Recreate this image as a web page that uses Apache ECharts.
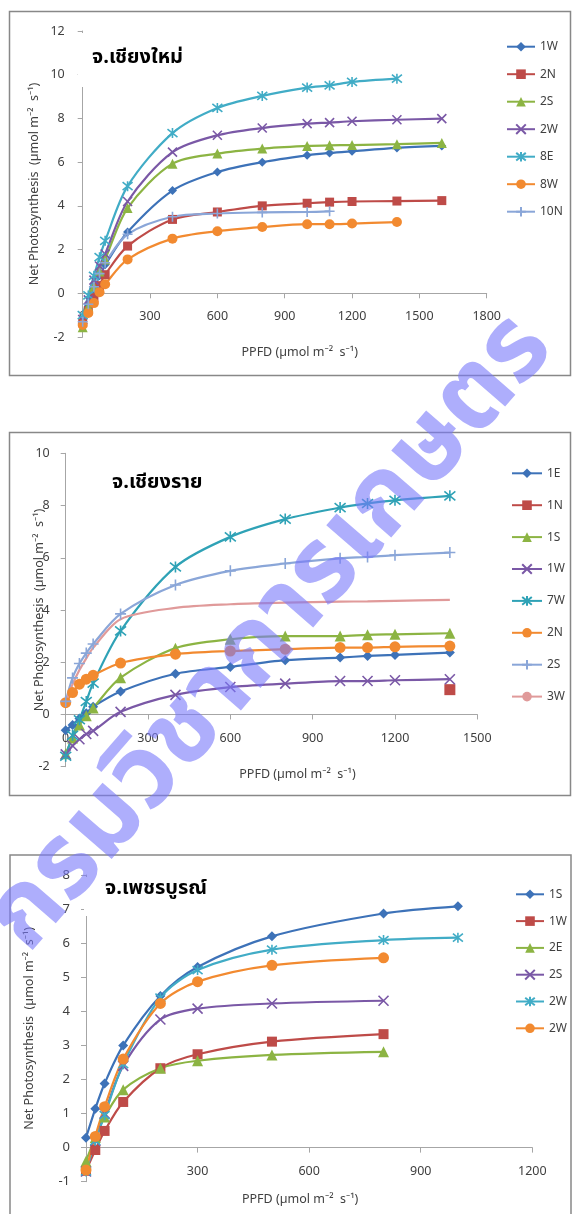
<!DOCTYPE html>
<html><head><meta charset="utf-8">
<script src="https://cdn.jsdelivr.net/npm/echarts@6/dist/echarts.min.js"></script>
<style>html,body{margin:0;padding:0;background:#fff}#c{width:574px;height:1214px}</style>
</head><body><div id="c"></div>
<script>
// ---------- Panel 1 : จ.เชียงใหม่ ----------
const cmTitle = 'จ.เชียงใหม่';
const cmPPFD = [0, 25, 50, 75, 100, 200, 400, 600, 800, 1000, 1100, 1200, 1400, 1600];
const cmXTicks = [0, 300, 600, 900, 1200, 1500, 1800];
const cmYTicks = [-2, 0, 2, 4, 6, 8, 10, 12];
const cmNames = ['1W', '2N', '2S', '2W', '8E', '8W', '10N'];
const cm1W  = [-1.4, -0.6, 0.2, 0.8, 1.3, 2.8, 4.7, 5.55, 6.0, 6.31, 6.42, 6.5, 6.65, 6.74];
const cm2N  = [-1.35, -0.8, -0.2, 0.35, 0.85, 2.16, 3.38, 3.72, 4.0, 4.12, 4.17, 4.2, 4.22, 4.24];
const cm2S  = [-1.55, -0.6, 0.3, 1.0, 1.55, 3.9, 5.93, 6.39, 6.62, 6.74, 6.77, 6.78, 6.82, 6.88];
const cm2W  = [-1.2, -0.3, 0.6, 1.25, 1.8, 4.2, 6.46, 7.23, 7.56, 7.76, 7.81, 7.87, 7.94, 7.99];
const cm8E  = [-1.0, -0.1, 0.8, 1.65, 2.4, 4.9, 7.33, 8.48, 9.03, 9.41, 9.51, 9.67, 9.82, null];
const cm8W  = [-1.45, -0.9, -0.45, 0.05, 0.41, 1.55, 2.5, 2.84, 3.03, 3.16, 3.16, 3.19, 3.26, null];
const cm10N = [-1.3, -0.5, 0.3, 0.9, 1.4, 2.7, 3.5, 3.65, 3.7, 3.72, 3.75, null, null, null];

// ---------- Panel 2 : จ.เชียงราย ----------
const crTitle = 'จ.เชียงราย';
const crPPFD = [0, 25, 50, 75, 100, 200, 400, 600, 800, 1000, 1100, 1200, 1400];
const crXTicks = [0, 300, 600, 900, 1200, 1500];
const crYTicks = [-2, 0, 2, 4, 6, 8, 10];
const crNames = ['1E', '1N', '1S', '1W', '7W', '2N', '2S', '3W'];
const cr1E = [-0.6, -0.4, -0.15, 0.05, 0.3, 0.88, 1.56, 1.82, 2.08, 2.18, 2.24, 2.28, 2.37];
const cr1N = [null, null, null, null, null, null, null, null, null, null, null, null, 0.95];
const cr1S = [-1.5, -0.9, -0.4, -0.05, 0.25, 1.41, 2.54, 2.88, 3.0, 3.0, 3.05, 3.07, 3.11];
const cr1W = [-1.53, -1.2, -0.95, -0.75, -0.63, 0.1, 0.75, 1.05, 1.18, 1.28, 1.28, 1.31, 1.35];
const cr7W = [-1.6, -0.8, -0.2, 0.5, 1.2, 3.2, 5.65, 6.8, 7.48, 7.92, 8.08, 8.2, 8.37];
const cr2N = [0.45, 0.84, 1.16, 1.35, 1.5, 1.97, 2.31, 2.43, 2.5, 2.56, 2.56, 2.59, 2.62];
const cr2S = [0.5, 1.4, 1.95, 2.35, 2.7, 3.85, 4.96, 5.5, 5.78, 5.98, 6.03, 6.1, 6.2];
const cr3W = [0.45, 1.15, 1.7, 2.15, 2.55, 3.65, 4.08, 4.22, 4.28, 4.32, 4.33, 4.35, 4.39];

// ---------- Panel 3 : จ.เพชรบูรณ์ ----------
const pbTitle = 'จ.เพชรบูรณ์';
const pbPPFD = [0, 25, 50, 100, 200, 300, 500, 800, 1000];
const pbXTicks = [0, 300, 600, 900, 1200];
const pbYTicks = [-1, 0, 1, 2, 3, 4, 5, 6, 7, 8];
const pbNames = ['1S', '1W', '2E', '2S', '2W', '2W'];
const pb1S  = [0.29, 1.14, 1.88, 3.0, 4.45, 5.3, 6.2, 6.87, 7.08];
const pb1W  = [-0.68, -0.07, 0.49, 1.34, 2.33, 2.74, 3.11, 3.33, null];
const pb2E  = [-0.4, 0.3, 0.9, 1.7, 2.33, 2.55, 2.72, 2.81, null];
const pb2S  = [-0.7, 0.2, 1.0, 2.4, 3.76, 4.08, 4.23, 4.31, null];
const pb2Wa = [-0.7, 0.2, 0.95, 2.45, 4.4, 5.21, 5.81, 6.09, 6.16];
const pb2Wb = [-0.66, 0.33, 1.2, 2.6, 4.23, 4.87, 5.35, 5.57, null];

const watermarkText = 'กรมวิชาการเกษตร';
const yName = 'Net Photosynthesis  (µmol m⁻²  s⁻¹)';
const xName = 'PPFD (µmol m⁻²  s⁻¹)';

// ---------- styling ----------
const FONT = "'Noto Sans', 'DejaVu Sans', sans-serif";
const THAI = "'Noto Sans Thai', 'Noto Sans Thai UI', 'Loma', 'Garuda', 'Tlwg Typo', 'DejaVu Sans', sans-serif";
const SYM = {
  diamond: 'diamond', square: 'rect', triangle: 'triangle', circle: 'circle',
  x: 'path://M0,0L10,10M10,0L0,10',
  star: 'path://M1,1L9,9M9,1L1,9M5,0L5,10',
  plus: 'path://M5,0L5,10M0,5L10,5',
  none: 'none'
};
const C = { blue:'#3D72B8', red:'#BE4B48', green:'#8CB443', purple:'#7A58A6', cyan:'#41ACC6',
            teal:'#2FA2B6', orange:'#F28A30', lblue:'#8AA6D8', pink:'#E09A9A' };

function pts(xs, ys) { const o = []; ys.forEach((y, i) => { if (y !== null) o.push([xs[i], y]); }); return o; }

function mk(panel, gi, name, xs, ys, color, sym, size) {
  const stroke = (sym === 'x' || sym === 'star' || sym === 'plus');
  return {
    type: 'line', name: panel + '|' + name, xAxisIndex: gi, yAxisIndex: gi,
    data: pts(xs, ys), color: color,
    smooth: 0.3,
    symbol: SYM[sym], symbolSize: size, showSymbol: sym !== 'none',
    lineStyle: { width: 2.2, color: color },
    itemStyle: { color: color, borderColor: color, borderWidth: stroke ? 1.6 : 0 },
    emphasis: { disabled: true }
  };
}

function xAx(gi, ticks, gap, pad, lblMargin) {
  return {
    type: 'value', gridIndex: gi, min: ticks[0], max: ticks[ticks.length - 1], interval: ticks[1] - ticks[0],
    name: xName, nameLocation: 'middle', nameGap: gap, nameMoveOverlap: false,
    nameTextStyle: { fontFamily: FONT, fontSize: 12.5, color: '#404040', padding: pad },
    axisLine: { onZero: true, lineStyle: { color: '#A6A6A6', width: 1 } },
    axisTick: { show: true, length: 5, lineStyle: { color: '#A6A6A6' } },
    axisLabel: { margin: lblMargin, color: '#404040', fontSize: 12.5, fontFamily: FONT, showMinLabel: true, showMaxLabel: true, hideOverlap: false,
                 formatter: v => String(v) },
    splitLine: { show: false }
  };
}
function yAx(gi, ticks, gap, lblMargin, fs) {
  return {
    type: 'value', gridIndex: gi, min: ticks[0], max: ticks[ticks.length - 1], interval: ticks[1] - ticks[0],
    name: yName, nameLocation: 'middle', nameGap: gap, nameMoveOverlap: false,
    nameTextStyle: { fontFamily: FONT, fontSize: 12.5, color: '#404040' },
    axisLine: { show: true, onZero: true, lineStyle: { color: '#A6A6A6', width: 1 } },
    axisTick: { show: true, length: 5, lineStyle: { color: '#A6A6A6' } },
    axisLabel: { margin: lblMargin, color: '#404040', fontSize: fs, fontFamily: FONT, showMinLabel: true, showMaxLabel: true, hideOverlap: false,
                 formatter: v => String(v) },
    splitLine: { show: false }
  };
}
function lg(panel, names, left, top, iw, gap) {
  return {
    orient: 'vertical', left: left, top: top, padding: 0, itemWidth: iw, itemHeight: 12, itemGap: gap,
    data: names.map((n, i) => panel + '|' + n + (panel === 'pb' && i === 5 ? '|b' : '')),
    formatter: n => n.split('|')[1],
    textStyle: { fontFamily: FONT, fontSize: 12, color: '#404040' },
    selectedMode: false
  };
}

const series = [
  mk('cm', 0, cmNames[0], cmPPFD, cm1W, C.blue, 'diamond', 9),
  mk('cm', 0, cmNames[1], cmPPFD, cm2N, C.red, 'square', 9),
  mk('cm', 0, cmNames[2], cmPPFD, cm2S, C.green, 'triangle', 10),
  mk('cm', 0, cmNames[3], cmPPFD, cm2W, C.purple, 'x', 9),
  mk('cm', 0, cmNames[4], cmPPFD, cm8E, C.cyan, 'star', 10),
  mk('cm', 0, cmNames[5], cmPPFD, cm8W, C.orange, 'circle', 10),
  mk('cm', 0, cmNames[6], cmPPFD, cm10N, C.lblue, 'plus', 10),

  mk('cr', 1, crNames[0], crPPFD, cr1E, C.blue, 'diamond', 10),
  mk('cr', 1, crNames[1], crPPFD, cr1N, C.red, 'square', 11),
  mk('cr', 1, crNames[2], crPPFD, cr1S, C.green, 'triangle', 11),
  mk('cr', 1, crNames[3], crPPFD, cr1W, C.purple, 'x', 10),
  mk('cr', 1, crNames[4], crPPFD, cr7W, C.teal, 'star', 11),
  mk('cr', 1, crNames[5], crPPFD, cr2N, C.orange, 'circle', 11),
  mk('cr', 1, crNames[6], crPPFD, cr2S, C.lblue, 'plus', 11),
  mk('cr', 1, crNames[7], crPPFD, cr3W, C.pink, 'none', 0),

  mk('pb', 2, pbNames[0], pbPPFD, pb1S, C.blue, 'diamond', 10),
  mk('pb', 2, pbNames[1], pbPPFD, pb1W, C.red, 'square', 10),
  mk('pb', 2, pbNames[2], pbPPFD, pb2E, C.green, 'triangle', 11),
  mk('pb', 2, pbNames[3], pbPPFD, pb2S, C.purple, 'x', 10),
  mk('pb', 2, pbNames[4], pbPPFD, pb2Wa, C.cyan, 'star', 10),
  mk('pb', 2, pbNames[5] + '|b', pbPPFD, pb2Wb, C.orange, 'circle', 11)
];

const chart = echarts.init(document.getElementById('c'), null, { renderer: 'canvas' });
chart.setOption({
  animation: false,
  backgroundColor: '#fff',
  grid: [
    { left: 82.7, top: 31, width: 404, height: 306 },
    { left: 65.7, top: 453.3, width: 411.6, height: 313.4 },
    { left: 86, top: 875, width: 446.3, height: 306.7 }
  ],
  xAxis: [ xAx(0, cmXTicks, 9, [0, 0, 0, 30], -26.7), xAx(1, crXTicks, 1, [0, 0, 0, 52], -35.2), xAx(2, pbXTicks, 11, [0, 18, 0, 0], -17.1) ],
  yAxis: [ yAx(0, cmYTicks, 42, 18, 12.5), yAx(1, crYTicks, 20, 16, 12.5), yAx(2, pbYTicks, 50, 16, 13) ],
  legend: [ lg('cm', cmNames, 506, 40.7, 28, 15.5), lg('cr', crNames, 511, 467.3, 30, 19.9), lg('pb', pbNames, 515, 888.3, 28, 14.8) ],
  title: [
    { text: cmTitle, left: 78, top: 33, padding: [16, 6, 18, 14], backgroundColor: '#fff',
      textStyle: { fontFamily: THAI, fontSize: 20, fontWeight: 'bold', color: '#000' } },
    { text: crTitle, left: 112, top: 474, padding: 0,
      textStyle: { fontFamily: THAI, fontSize: 20, fontWeight: 'bold', color: '#000' } },
    { text: pbTitle, left: 84, top: 877, padding: [3, 6, 16, 21], backgroundColor: '#fff',
      textStyle: { fontFamily: THAI, fontSize: 20, fontWeight: 'bold', color: '#000' } }
  ],
  graphic: [
    { type: 'rect', z: -1, shape: { x: 9.5, y: 11.5, width: 561, height: 364 }, style: { fill: 'none', stroke: '#888', lineWidth: 1.5 } },
    { type: 'rect', z: -1, shape: { x: 9.5, y: 432.5, width: 561, height: 363 }, style: { fill: 'none', stroke: '#888', lineWidth: 1.5 } },
    { type: 'rect', z: -1, shape: { x: 10, y: 855, width: 561, height: 380 }, style: { fill: 'none', stroke: '#888', lineWidth: 1.5 } },
    { type: 'text', z: 100, x: 276, y: 638, rotation: 49 * Math.PI / 180,
      style: { text: watermarkText, font: 'bold 104px ' + THAI, fill: 'rgba(120,120,250,0.6)', align: 'center', verticalAlign: 'middle' } }
  ],
  series: series
});
</script></body></html>
